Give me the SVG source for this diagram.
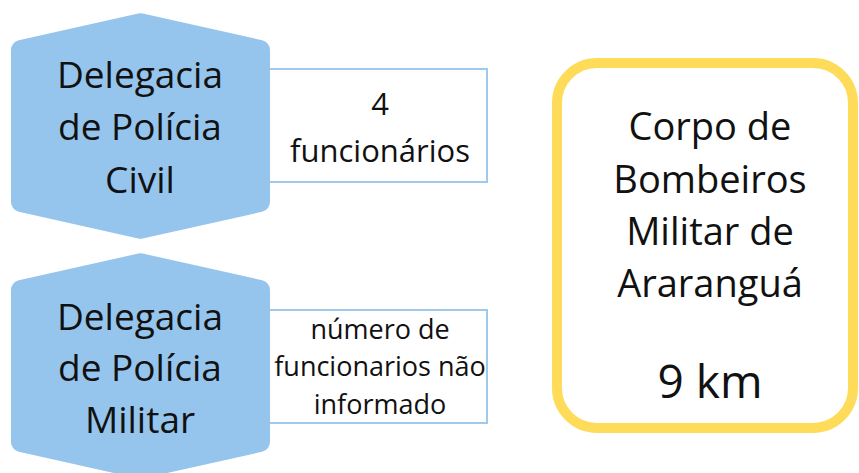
<svg xmlns="http://www.w3.org/2000/svg" width="859" height="473" viewBox="0 0 859 473">
<style>
.hex{fill:#95c5ec;stroke:#95c5ec;stroke-width:20;stroke-linejoin:round}
.box{fill:#ffffff;stroke:#9fcaee;stroke-width:2}
.yel{fill:#ffffff;stroke:#fedc5a;stroke-width:10}
text{font-family:"Open Sans","Liberation Sans",sans-serif;fill:#111111;text-anchor:middle}
.big{font-size:37px}
.mid{font-size:31px}
.sm{font-size:27px}
.lg{font-size:38px}
.km{font-size:46px}
</style>
<rect width="859" height="473" fill="#ffffff"/>
<g id="connectors"/>
<g id="box-civil">
<rect class="box" x="264" y="69" width="223" height="113"/>
<text class="mid" x="380" y="115">4</text>
<text class="mid" x="380" y="162">funcionários</text>
</g>
<g id="box-militar">
<rect class="box" x="264" y="310" width="223" height="113"/>
<text class="sm" x="380" y="339">número de</text>
<text class="sm" x="380" y="376">funcionarios não</text>
<text class="sm" x="380" y="414">informado</text>
</g>
<g id="hex-civil">
<polygon class="hex" points="140.5,23.3 260,50 260,202 140.5,228.7 21,202 21,50"/>
<text class="big" x="140" y="88">Delegacia</text>
<text class="big" x="140" y="140">de Polícia</text>
<text class="big" x="140" y="193">Civil</text>
</g>
<g id="hex-militar">
<polygon class="hex" points="140.5,263.3 260,290 260,442 140.5,468.7 21,442 21,290"/>
<text class="big" x="140" y="330">Delegacia</text>
<text class="big" x="140" y="381">de Polícia</text>
<text class="big" x="140" y="433">Militar</text>
</g>
<g id="bombeiros">
<rect class="yel" x="557" y="63" width="296" height="365" rx="40" ry="40"/>
<text class="lg" x="710" y="140">Corpo de</text>
<text class="lg" x="710" y="193">Bombeiros</text>
<text class="lg" x="710" y="245">Militar de</text>
<text class="lg" x="710" y="297">Araranguá</text>
<text class="km" x="710" y="398">9 km</text>
</g>
</svg>
